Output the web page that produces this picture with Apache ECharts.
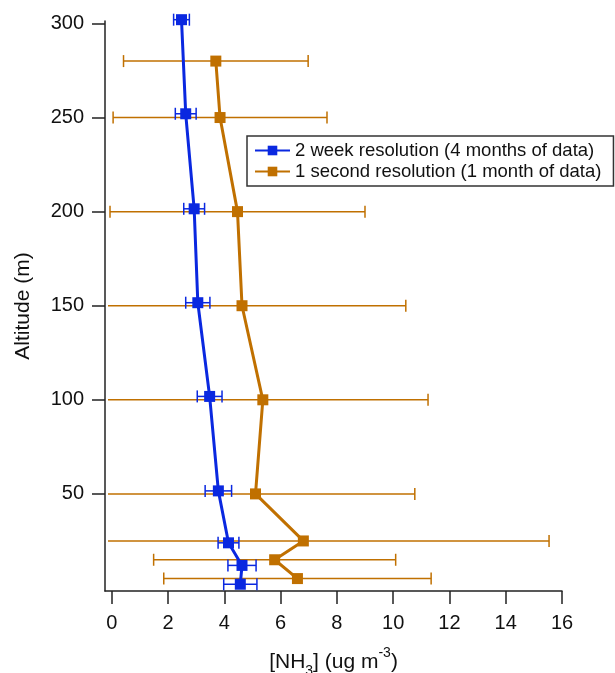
<!DOCTYPE html>
<html>
<head>
<meta charset="utf-8">
<script src="https://cdn.jsdelivr.net/npm/echarts@6/dist/echarts.min.js"></script>
<style>
html,body{margin:0;padding:0;background:#fff;}
#chart{width:615px;height:673px;}
</style>
</head>
<body>
<div id="chart"></div>
<script>
// 2 week resolution (4 months of data)
var blueAlt = [302, 252, 201.5, 151.6, 101.8, 51.6, 24, 12, 2];
var blueX   = [2.48, 2.63, 2.93, 3.06, 3.48, 3.79, 4.15, 4.63, 4.57];
var blueErr = [0.28, 0.37, 0.37, 0.43, 0.44, 0.47, 0.37, 0.50, 0.59];
// 1 second resolution (1 month of data)
var orangeAlt = [280, 250, 200, 150, 100, 50, 25, 15, 5];
var orangeX   = [3.70, 3.85, 4.47, 4.63, 5.37, 5.11, 6.81, 5.79, 6.60];
var orangeErr = [3.28, 3.80, 4.53, 5.82, 5.87, 5.66, 8.73, 4.30, 4.75];

var xTicks = [0, 2, 4, 6, 8, 10, 12, 14, 16];
var yTicks = [50, 100, 150, 200, 250, 300];
var seriesNames = ['2 week resolution (4 months of data)', '1 second resolution (1 month of data)'];

var BLUE = '#0a28e0';
var ORANGE = '#c07000';
var FONT = "'Liberation Sans', Arial, sans-serif";

function pts(xs, ys) { return xs.map(function (v, i) { return [v, ys[i]]; }); }
function errData(xs, ys, es) { return xs.map(function (v, i) { return [v, ys[i], v - es[i], v + es[i]]; }); }

function errRender(color, cap) {
  return function (params, api) {
    var cs = params.coordSys;
    var xL = cs.x, xR = cs.x + cs.width;
    var lo = api.coord([api.value(2), api.value(1)]);
    var hi = api.coord([api.value(3), api.value(1)]);
    var y = lo[1];
    var children = [];
    var a = Math.max(lo[0], xL + 3), b = Math.min(hi[0], xR);
    children.push({ type: 'line', shape: { x1: a, y1: y, x2: b, y2: y }, style: { stroke: color, lineWidth: 1.5 } });
    if (lo[0] >= xL) children.push({ type: 'line', shape: { x1: lo[0], y1: y - cap, x2: lo[0], y2: y + cap }, style: { stroke: color, lineWidth: 1.5 } });
    if (hi[0] <= xR) children.push({ type: 'line', shape: { x1: hi[0], y1: y - cap, x2: hi[0], y2: y + cap }, style: { stroke: color, lineWidth: 1.5 } });
    return { type: 'group', children: children };
  };
}

var chart = echarts.init(document.getElementById('chart'), null, { renderer: 'canvas' });
chart.setOption({
  backgroundColor: '#fff',
  animation: false,
  textStyle: { fontFamily: FONT },
  grid: { left: 105, right: 53, top: 21, bottom: 82, containLabel: false, outerBoundsMode: 'none' },
  legend: {
    orient: 'vertical',
    left: 247, top: 136,
    data: seriesNames,
    itemWidth: 35, itemHeight: 12,
    itemGap: 0,
    itemTextGap: 9,
    padding: [4, 12, 4, 7],
    borderColor: '#333', borderWidth: 1.5,
    backgroundColor: '#fff',
    textStyle: { fontSize: 18.5, color: '#111', fontFamily: FONT, lineHeight: 21 }
  },
  xAxis: {
    type: 'value', min: -0.238, max: 16,
    splitLine: { show: false },
    axisLine: { onZero: false, lineStyle: { color: '#222', width: 1.5 } },
    axisTick: { length: 13, lineStyle: { color: '#222', width: 1.5 }, customValues: xTicks },
    axisLabel: { fontSize: 20, color: '#111', margin: 22, customValues: xTicks, fontFamily: FONT },
    name: '{a|[NH}{s|3}{a|] (ug m}{p|-3}{a|)}',
    nameLocation: 'middle', nameGap: 55,
    nameTextStyle: {
      rich: {
        a: { fontSize: 21, color: '#111', lineHeight: 32, fontFamily: FONT },
        s: { fontSize: 14, color: '#111', lineHeight: 14, verticalAlign: 'bottom', fontFamily: FONT },
        p: { fontSize: 14, color: '#111', lineHeight: 14, verticalAlign: 'top', fontFamily: FONT }
      }
    }
  },
  yAxis: {
    type: 'value', min: -1.6, max: 301.3,
    splitLine: { show: false },
    axisLine: { show: true, onZero: false, lineStyle: { color: '#222', width: 1.5 } },
    axisTick: { show: true, length: 13, lineStyle: { color: '#222', width: 1.5 }, customValues: yTicks },
    axisLabel: { fontSize: 20, color: '#111', margin: 21, customValues: yTicks, fontFamily: FONT },
    name: 'Altitude (m)', nameLocation: 'middle', nameGap: 71,
    nameTextStyle: { fontSize: 21, color: '#111', fontFamily: FONT }
  },
  series: [
    {
      type: 'custom', name: 'errO', silent: true, clip: false,
      renderItem: errRender(ORANGE, 6),
      data: errData(orangeX, orangeAlt, orangeErr), z: 1
    },
    {
      type: 'line', name: seriesNames[1], data: pts(orangeX, orangeAlt),
      symbol: 'rect', symbolSize: 11, clip: false,
      lineStyle: { color: ORANGE, width: 3 }, itemStyle: { color: ORANGE }, z: 2
    },
    {
      type: 'custom', name: 'errB', silent: true, clip: false,
      renderItem: errRender(BLUE, 6),
      data: errData(blueX, blueAlt, blueErr), z: 3
    },
    {
      type: 'line', name: seriesNames[0], data: pts(blueX, blueAlt),
      symbol: 'rect', symbolSize: 11, clip: false,
      lineStyle: { color: BLUE, width: 3 }, itemStyle: { color: BLUE }, z: 4
    }
  ]
});
</script>
</body>
</html>
